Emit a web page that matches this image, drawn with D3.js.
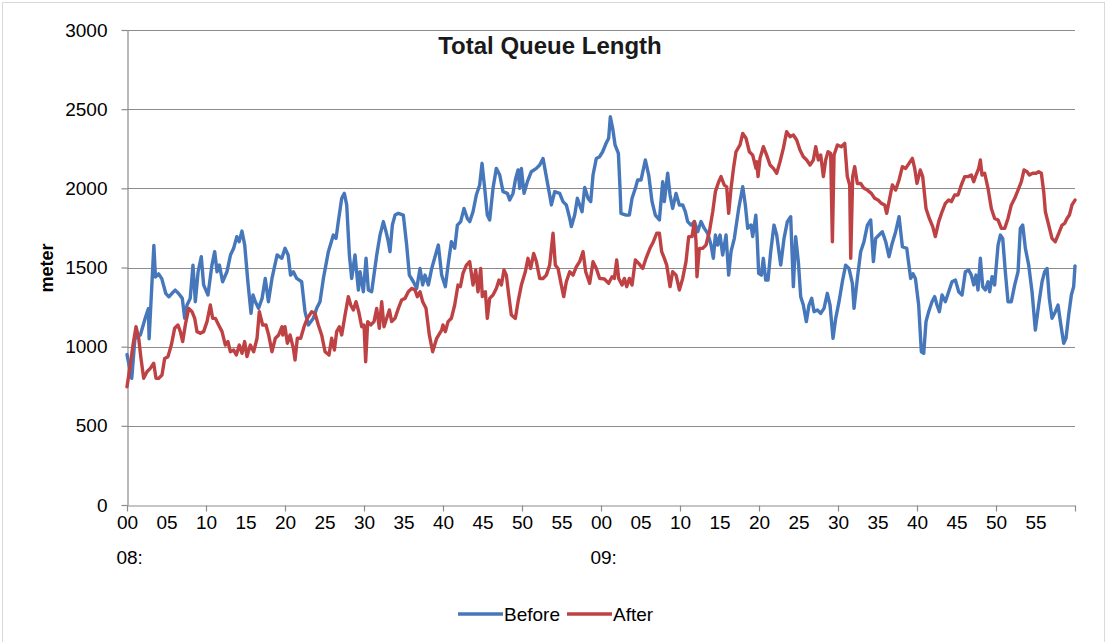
<!DOCTYPE html>
<html>
<head>
<meta charset="utf-8">
<script src="https://cdn.jsdelivr.net/npm/d3@7/dist/d3.min.js"></script>
<style>
  html, body { margin: 0; padding: 0; background: #ffffff; }
  svg { display: block; font-family: "Liberation Sans", Arial, sans-serif; }
</style>
</head>
<body>
<svg id="chart" width="1107" height="642"></svg>
<script>
// Total queue length (meter), minutes after 08:00
const beforeMinutes = [
  0, 0.6, 1.0, 1.7, 2.3, 2.7, 2.8, 3.4, 3.6, 4.0, 4.4, 4.9, 5.3, 5.7, 6.1, 6.5, 7.0, 7.3, 7.6, 8.0,
  8.35, 8.65, 9.0, 9.4, 9.7, 10.25, 10.75, 11.1, 11.4, 11.7, 12.1, 12.65, 13.1, 13.5, 13.9, 14.2, 14.55, 14.9, 15.3, 15.7,
  15.95, 16.25, 16.65, 17.1, 17.5, 17.9, 18.35, 19.0, 19.6, 20.0, 20.4, 20.7, 21.06, 21.48, 22.11, 22.53, 22.96, 23.59, 24.01, 24.43,
  24.86, 25.49, 26.12, 26.46, 26.75, 27.18, 27.51, 27.81, 28.15, 28.44, 28.86, 29.29, 29.5, 29.92, 30.26, 30.55, 30.97, 31.61, 32.03, 32.45,
  32.79, 33.08, 33.29, 33.59, 33.93, 34.35, 34.98, 35.4, 35.74, 36.25, 36.67, 37.09, 37.43, 37.72, 38.15, 38.57, 39.41, 39.83, 40.3, 40.64,
  41.06, 41.48, 41.82, 42.24, 42.66, 43.08, 43.38, 43.8, 44.22, 44.64, 44.94, 45.28, 45.61, 45.91, 46.33, 46.75, 47.18, 47.6, 48.15, 48.44,
  48.86, 49.2, 49.5, 49.71, 49.92, 50.26, 50.68, 51.18, 51.82, 52.24, 52.66, 53.08, 53.5, 53.72, 54.14, 54.77, 55.19, 55.61, 56.04, 56.25,
  56.67, 57.01, 57.3, 57.6, 57.94, 58.36, 58.7, 58.99, 59.41, 59.83, 60.21, 60.64, 60.97, 61.18, 61.48, 61.78, 62.2, 62.41, 62.53, 63.17,
  63.59, 63.93, 64.35, 64.64, 65.07, 65.61, 66.04, 66.46, 66.88, 67.39, 67.81, 68.02, 68.44, 68.74, 69.07, 69.5, 69.92, 70.34, 70.68, 70.97,
  71.4, 71.82, 72.24, 72.66, 73.08, 73.5, 73.93, 74.22, 74.48, 74.77, 75.07, 75.4, 75.83, 76.16, 76.46, 76.88, 77.43, 77.94, 78.27, 78.57,
  78.99, 79.2, 79.6, 79.75, 79.96, 80.3, 80.55, 80.85, 81.14, 81.48, 81.9, 82.24, 82.75, 83.17, 83.59, 84.01, 84.35, 84.64, 84.98, 85.28,
  85.61, 85.99, 86.33, 86.67, 86.97, 87.39, 87.81, 88.23, 88.65, 88.99, 89.37, 89.71, 90.13, 90.55, 90.97, 91.39, 91.82, 92.03, 92.45, 92.87,
  93.29, 93.72, 94.14, 94.48, 94.77, 95.19, 95.61, 96.04, 96.46, 96.8, 97.3, 97.73, 98.15, 98.7, 99.2, 99.5, 99.8, 100.21, 100.55, 100.85,
  101.14, 101.48, 101.9, 102.24, 102.53, 102.83, 103.17, 103.59, 104.01, 104.43, 104.86, 105.28, 105.7, 106.12, 106.54, 106.88, 107.18, 107.47, 107.72, 108.02,
  108.32, 108.65, 108.99, 109.2, 109.5, 109.83, 110.26, 110.55, 110.85, 111.18, 111.52, 111.94, 112.37, 112.79, 113.08, 113.38, 113.72, 114.14, 114.56, 114.98,
  115.4, 115.83, 116.16, 116.46, 116.75, 117.09, 117.51, 117.85, 118.15, 118.57, 118.86, 119.2, 119.54, 119.83, 120
];
const beforeValues = [
  950, 800, 1050, 1075, 1180, 1240, 1050, 1640, 1440, 1460, 1430, 1337, 1315, 1337, 1357, 1337, 1305, 1180, 1263, 1305,
  1515, 1284, 1473, 1568, 1390, 1326, 1515, 1600, 1473, 1515, 1410, 1473, 1579, 1621, 1695, 1663, 1730, 1642, 1410, 1210,
  1326, 1284, 1242, 1305, 1431, 1284, 1431, 1579, 1558, 1621, 1579, 1452, 1473, 1431, 1410, 1221, 1137, 1179, 1242, 1284,
  1431, 1600, 1705, 1684, 1790, 1937, 1968, 1895, 1579, 1431, 1579, 1358, 1473, 1347, 1558, 1358, 1347, 1579, 1705, 1790,
  1726, 1663, 1600, 1768, 1831, 1842, 1831, 1642, 1452, 1410, 1368, 1494, 1390, 1452, 1390, 1494, 1642, 1452, 1379, 1515,
  1663, 1621, 1768, 1790, 1873, 1810, 1790, 1852, 1958, 2021, 2158, 2000, 1831, 1800, 2000, 2126, 2084, 1979, 1968, 1926,
  1968, 2063, 2116, 2000, 2126, 1968, 2042, 2105, 2126, 2147, 2189, 2074, 1958, 1895, 1979, 1968, 1916, 1895, 1810, 1758,
  1831, 1937, 1895, 1852, 2005, 1937, 1916, 2084, 2189, 2200, 2231, 2284, 2316, 2452, 2379, 2274, 2221, 2000, 1842, 1831,
  1831, 1937, 2000, 2053, 2053, 2179, 2084, 1916, 1831, 1800, 2042, 1916, 2095, 1958, 1873, 1968, 1895, 1895, 1852, 1790,
  1768, 1790, 1726, 1790, 1747, 1716, 1642, 1558, 1705, 1642, 1705, 1579, 1705, 1452, 1600, 1684, 1873, 2010, 1895, 1747,
  1768, 1695, 1830, 1705, 1463, 1452, 1558, 1421, 1421, 1600, 1768, 1705, 1515, 1684, 1790, 1821, 1379, 1695, 1537, 1316,
  1263, 1158, 1263, 1305, 1221, 1232, 1210, 1242, 1337, 1263, 1053, 1179, 1284, 1410, 1515, 1494, 1400, 1242, 1431, 1600,
  1663, 1768, 1800, 1537, 1684, 1705, 1726, 1663, 1568, 1642, 1726, 1821, 1631, 1621, 1431, 1460, 1431, 1263, 968, 958,
  1158, 1221, 1284, 1316, 1263, 1221, 1326, 1284, 1347, 1410, 1421, 1347, 1326, 1473, 1484, 1452, 1390, 1452, 1358, 1558,
  1379, 1358, 1410, 1347, 1442, 1390, 1642, 1705, 1684, 1473, 1284, 1284, 1390, 1473, 1747, 1768, 1621, 1515, 1347, 1105,
  1263, 1410, 1473, 1494, 1305, 1179, 1221, 1263, 1158, 1021, 1053, 1200, 1326, 1379, 1510
];
const afterMinutes = [
  0, 0.42, 0.76, 1.14, 1.48, 1.77, 2.11, 2.53, 2.95, 3.38, 3.67, 4.01, 4.43, 4.77, 5.19, 5.61, 6.03, 6.45, 6.75, 7.05,
  7.38, 7.81, 8.23, 8.57, 8.86, 9.28, 9.7, 10.13, 10.55, 10.84, 11.18, 11.6, 12.03, 12.45, 12.78, 13.08, 13.5, 13.84, 14.22, 14.56,
  14.89, 15.19, 15.61, 16.03, 16.46, 16.75, 17.17, 17.59, 17.93, 18.35, 18.78, 19.2, 19.62, 19.71, 20.0, 20.3, 20.64, 21.06, 21.27, 21.56,
  21.99, 22.41, 22.83, 23.38, 23.8, 24.22, 24.64, 25.07, 25.57, 25.91, 26.25, 26.54, 26.88, 27.18, 27.6, 28.02, 28.32, 28.65, 28.99, 29.33,
  29.71, 30.0, 30.21, 30.47, 30.85, 31.27, 31.61, 31.94, 32.24, 32.53, 32.87, 33.21, 33.5, 33.93, 34.35, 34.77, 35.19, 35.61, 36.04, 36.46,
  36.75, 37.09, 37.43, 37.85, 38.27, 38.69, 39.2, 39.83, 40.0, 40.3, 40.64, 41.06, 41.48, 41.9, 42.2, 42.53, 42.96, 43.38, 43.8, 44.14,
  44.43, 44.77, 44.98, 45.36, 45.61, 45.91, 46.33, 46.75, 47.09, 47.39, 47.72, 48.02, 48.32, 48.65, 49.16, 49.5, 49.92, 50.42, 50.76, 51.1,
  51.48, 51.82, 52.24, 52.66, 53.08, 53.5, 53.93, 54.22, 54.56, 54.98, 55.28, 55.61, 56.04, 56.46, 56.88, 57.3, 57.73, 58.06, 58.57, 58.99,
  59.41, 59.83, 60.42, 60.97, 61.4, 61.69, 61.99, 62.24, 62.66, 62.96, 63.25, 63.59, 63.93, 64.35, 64.77, 65.28, 65.7, 66.2, 66.63, 67.05,
  67.39, 67.68, 68.02, 68.32, 68.74, 69.07, 69.5, 69.92, 70.34, 70.76, 71.1, 71.52, 71.82, 72.03, 72.15, 72.45, 72.87, 73.29, 73.72, 74.14,
  74.48, 74.9, 75.19, 75.61, 75.91, 76.16, 76.46, 76.8, 77.09, 77.6, 77.94, 78.36, 78.78, 79.2, 79.62, 79.71, 79.88, 80.13, 80.55, 80.97,
  81.4, 81.82, 82.24, 82.66, 83.08, 83.5, 83.93, 84.35, 84.77, 85.19, 85.61, 86.04, 86.46, 86.88, 87.18, 87.51, 87.81, 88.15, 88.44, 88.74,
  89.07, 89.29, 89.5, 89.92, 90.42, 90.85, 91.18, 91.48, 91.61, 91.86, 92.11, 92.45, 92.87, 93.29, 93.72, 94.22, 94.64, 95.07, 95.49, 95.91,
  96.16, 96.46, 96.88, 97.3, 97.73, 98.15, 98.57, 98.99, 99.41, 99.71, 100.0, 100.42, 100.72, 101.14, 101.56, 101.99, 102.32, 102.75, 103.17, 103.59,
  104.01, 104.35, 104.77, 105.19, 105.61, 106.04, 106.46, 106.88, 107.18, 107.47, 107.81, 108.02, 108.23, 108.57, 108.99, 109.41, 109.83, 110.26, 110.68, 111.1,
  111.52, 111.94, 112.37, 112.79, 113.21, 113.55, 113.93, 114.22, 114.64, 115.07, 115.4, 115.74, 116.04, 116.25, 116.67, 117.09, 117.51, 117.94, 118.36, 118.7,
  118.99, 119.29, 119.62, 120
];
const afterValues = [
  747, 884, 1010, 1126, 1053, 926, 800, 842, 863, 895, 800, 800, 821, 926, 937, 1010, 1116, 1137, 1095, 1032,
  1137, 1242, 1221, 1179, 1095, 1084, 1095, 1158, 1263, 1179, 1179, 1137, 1095, 1010, 1032, 968, 979, 947, 1010, 958,
  1032, 937, 1010, 968, 1053, 1221, 1137, 1137, 1074, 968, 1053, 1074, 1126, 1074, 1126, 1021, 1074, 989, 916, 1053,
  1053, 1126, 1179, 1221, 1210, 1137, 1074, 968, 947, 1053, 979, 1095, 1126, 1074, 1200, 1316, 1263, 1232, 1284, 1221,
  1126, 1137, 905, 1158, 1137, 1158, 1242, 1116, 1284, 1126, 1179, 1232, 1158, 1179, 1242, 1295, 1305, 1347, 1368, 1358,
  1316, 1347, 1284, 1242, 1074, 968, 1053, 1105, 1137, 1095, 1158, 1179, 1263, 1389, 1379, 1463, 1515, 1537, 1389, 1484,
  1347, 1494, 1316, 1347, 1179, 1305, 1326, 1368, 1421, 1389, 1484, 1452, 1326, 1200, 1179, 1284, 1389, 1473, 1558, 1494,
  1589, 1537, 1431, 1431, 1452, 1515, 1716, 1515, 1494, 1389, 1316, 1410, 1473, 1452, 1505, 1537, 1600, 1473, 1400, 1537,
  1494, 1431, 1427, 1400, 1442, 1431, 1547, 1431, 1389, 1431, 1379, 1431, 1389, 1547, 1526, 1494, 1558, 1621, 1663, 1716,
  1716, 1600, 1558, 1515, 1379, 1473, 1452, 1358, 1431, 1537, 1695, 1695, 1790, 1663, 1442, 1621, 1621, 1642, 1726, 1852,
  1979, 2042, 2074, 2021, 2010, 1842, 2000, 2137, 2231, 2274, 2347, 2316, 2231, 2210, 2126, 2168, 2074, 2189, 2263, 2210,
  2147, 2126, 2095, 2168, 2252, 2358, 2326, 2337, 2305, 2242, 2200, 2179, 2147, 2179, 2263, 2179, 2210, 2074, 2179, 2231,
  2221, 1663, 2210, 2274, 2263, 2284, 2074, 2021, 1558, 2074, 2137, 2031, 2031, 2000, 1989, 1968, 1937, 1926, 1905, 1895,
  1842, 1916, 2021, 1989, 2053, 2137, 2126, 2158, 2189, 2126, 2031, 2116, 2074, 1873, 1810, 1758, 1695, 1790, 1852, 1905,
  1926, 1916, 1958, 1958, 2021, 2074, 2074, 2084, 2042, 2084, 2126, 2179, 2084, 2095, 2000, 1873, 1810, 1800, 1747, 1747,
  1810, 1895, 1937, 1989, 2042, 2116, 2105, 2084, 2095, 2095, 2105, 2095, 1979, 1852, 1768, 1684, 1663, 1716, 1768, 1779,
  1810, 1831, 1895, 1926
];

// Axis ticks
const yTicks = [0, 500, 1000, 1500, 2000, 2500, 3000];
const xMarkMinutes = [0, 10, 20, 30, 40, 50, 60, 70, 80, 90, 100, 110, 120];
const xLabelMinutes = d3.range(0, 120, 5);
const hourLabels = [{ minute: 0, text: "08:" }, { minute: 60, text: "09:" }];

const seriesNames = ["Before", "After"];
const seriesColors = ["#4677bb", "#be4244"];

const svg = d3.select("#chart");
const W = 1107, H = 642;
const plot = { left: 127, right: 1075, top: 30, bottom: 505 };

// Outer chart frame
svg.append("rect")
  .attr("x", 2.5).attr("y", 2.5)
  .attr("width", W - 5).attr("height", H)
  .attr("fill", "#ffffff")
  .attr("stroke", "#d9d9d9").attr("stroke-width", 1);

const x = d3.scaleLinear().domain([0, 120]).range([plot.left, plot.right]);
const y = d3.scaleLinear().domain([0, 3000]).range([plot.bottom, plot.top]);

// Horizontal gridlines
svg.append("g")
  .selectAll("line")
  .data(yTicks.filter(d => d > 0))
  .join("line")
  .attr("x1", plot.left).attr("x2", plot.right)
  .attr("y1", d => Math.round(y(d)) + 0.5).attr("y2", d => Math.round(y(d)) + 0.5)
  .attr("stroke", "#8c8c8c").attr("stroke-width", 1.2);

// Y axis
const yAxis = svg.append("g")
  .attr("transform", `translate(${plot.left + 0.5},0)`)
  .call(d3.axisLeft(y).tickValues(yTicks).tickSize(6).tickSizeOuter(0).tickPadding(14)
    .tickFormat(d3.format("d")));
yAxis.select(".domain").attr("stroke", "#8c8c8c").attr("stroke-width", 1.2);
yAxis.selectAll(".tick line").attr("stroke", "#8c8c8c").attr("stroke-width", 1.2);
yAxis.selectAll(".tick text")
  .attr("font-size", 19).attr("fill", "#000000")
  .attr("font-family", "Liberation Sans, Arial, sans-serif");

// X axis: tick marks every 10 minutes
const xAxis = svg.append("g")
  .attr("transform", `translate(0,${Math.round(plot.bottom) + 0.5})`)
  .call(d3.axisBottom(x).tickValues(xMarkMinutes).tickSize(6).tickSizeOuter(0).tickFormat(""));
xAxis.select(".domain").attr("stroke", "#8c8c8c").attr("stroke-width", 1.2);
xAxis.selectAll(".tick line").attr("stroke", "#8c8c8c").attr("stroke-width", 1.2);

// X axis: minute labels every 5 minutes
const xLabels = svg.append("g")
  .attr("transform", `translate(0,${plot.bottom})`)
  .call(d3.axisBottom(x).tickValues(xLabelMinutes).tickSize(0).tickPadding(11)
    .tickFormat(d => String(d % 60).padStart(2, "0")));
xLabels.select(".domain").remove();
xLabels.selectAll(".tick text")
  .attr("font-size", 19).attr("fill", "#000000")
  .attr("font-family", "Liberation Sans, Arial, sans-serif");

// Hour labels below the minute labels, left-aligned with them
const minuteLabelWidth = xLabels.select(".tick text").node().getComputedTextLength();
svg.append("g")
  .selectAll("text")
  .data(hourLabels)
  .join("text")
  .attr("x", d => x(d.minute) - minuteLabelWidth / 2)
  .attr("y", 564)
  .attr("font-size", 19)
  .attr("fill", "#000000")
  .text(d => d.text);

// Series lines
const line = d3.line().x(d => x(d[0])).y(d => y(d[1]));
const series = [
  d3.zip(beforeMinutes, beforeValues),
  d3.zip(afterMinutes, afterValues)
];
svg.append("g")
  .selectAll("path")
  .data(series)
  .join("path")
  .attr("d", line)
  .attr("fill", "none")
  .attr("stroke", (d, i) => seriesColors[i])
  .attr("stroke-width", 3.4)
  .attr("stroke-linejoin", "round")
  .attr("stroke-linecap", "round");

// Title
svg.append("text")
  .attr("x", 550).attr("y", 54)
  .attr("text-anchor", "middle")
  .attr("font-size", 24).attr("font-weight", "bold")
  .attr("fill", "#1a1a1a")
  .text("Total Queue Length");

// Y axis title
svg.append("text")
  .attr("transform", "translate(53,268) rotate(-90)")
  .attr("text-anchor", "middle")
  .attr("font-size", 18).attr("font-weight", "bold")
  .attr("fill", "#000000")
  .text("meter");

// Legend
const legend = svg.append("g").attr("transform", "translate(458,614)");
const legendItems = legend.selectAll("g")
  .data(seriesNames)
  .join("g")
  .attr("transform", (d, i) => `translate(${i * 109},0)`);
legendItems.append("line")
  .attr("x1", 0).attr("x2", 45).attr("y1", 0).attr("y2", 0)
  .attr("stroke", (d, i) => seriesColors[i]).attr("stroke-width", 3.4);
legendItems.append("text")
  .attr("x", 46).attr("y", 7)
  .attr("font-size", 19).attr("fill", "#000000")
  .text(d => d);
</script>
</body>
</html>
